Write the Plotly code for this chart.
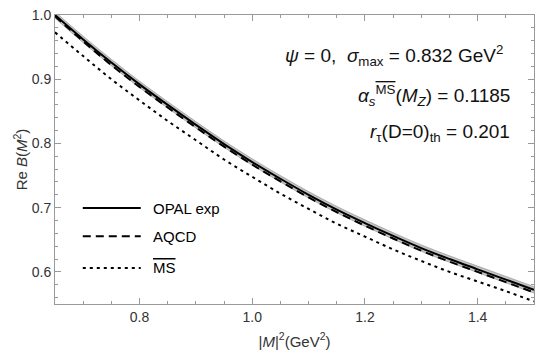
import plotly.graph_objects as go

# Data
x = [0.65, 0.70, 0.75, 0.80, 0.85, 0.90, 0.95, 1.00, 1.05, 1.10, 1.15, 1.20, 1.25, 1.30, 1.35, 1.40, 1.45, 1.50]
opal = [1.000, 0.962, 0.926, 0.892, 0.860, 0.829, 0.799, 0.771, 0.745, 0.720, 0.697, 0.676, 0.656, 0.637, 0.620, 0.604, 0.588, 0.572]
band_hi = [1.005, 0.967, 0.931, 0.897, 0.865, 0.834, 0.804, 0.776, 0.750, 0.725, 0.702, 0.681, 0.661, 0.642, 0.625, 0.609, 0.593, 0.577]
band_lo = [0.995, 0.957, 0.921, 0.887, 0.855, 0.824, 0.794, 0.766, 0.740, 0.715, 0.692, 0.671, 0.651, 0.632, 0.615, 0.599, 0.583, 0.567]
aqcd = [0.998, 0.959, 0.922, 0.888, 0.856, 0.825, 0.795, 0.767, 0.741, 0.716, 0.693, 0.672, 0.652, 0.633, 0.616, 0.600, 0.584, 0.568]
msbar = [0.973, 0.936, 0.900, 0.867, 0.835, 0.805, 0.775, 0.748, 0.722, 0.698, 0.675, 0.655, 0.635, 0.617, 0.600, 0.585, 0.570, 0.554]

legend_names = ["OPAL exp", "AQCD", "<span style='text-decoration:overline'>MS</span>"]
legend_dash = ["solid", "8px,5px", "3px,4px"]

FONT = "Liberation Sans, Arial, sans-serif"

fig = go.Figure()
fig.add_trace(go.Scatter(x=x, y=band_lo, mode="lines", line=dict(color="#8a8a8a", width=0.6, shape="spline"),
                         showlegend=False, hoverinfo="skip"))
fig.add_trace(go.Scatter(x=x, y=band_hi, mode="lines", line=dict(color="#8a8a8a", width=0.6, shape="spline"),
                         fill="tonexty", fillcolor="#c4c4c4", showlegend=False, hoverinfo="skip"))
fig.add_trace(go.Scatter(x=x, y=opal, mode="lines", line=dict(color="black", width=2, shape="spline"),
                         showlegend=False))
fig.add_trace(go.Scatter(x=x, y=aqcd, mode="lines", line=dict(color="black", width=2, dash="8px,5px", shape="spline"),
                         showlegend=False))
fig.add_trace(go.Scatter(x=x, y=msbar, mode="lines", line=dict(color="black", width=2, dash="3px,4px", shape="spline"),
                         showlegend=False))

axis_common = dict(
    showgrid=False, zeroline=False, showline=True, linecolor="#999999", linewidth=1,
    mirror="ticks", ticks="inside", ticklen=6, tickcolor="#999999", tickwidth=1,
    tickfont=dict(family=FONT, size=14, color="#333333"),
)

fig.update_xaxes(range=[0.65, 1.5], tickvals=[0.8, 1.0, 1.2, 1.4], ticktext=["0.8", "1.0", "1.2", "1.4"],
                 minor=dict(ticks="inside", ticklen=3, dtick=0.05, tick0=0.0, tickcolor="#999999"),
                 title=dict(text="|<i>M</i>|<sup>2</sup>(GeV<sup>2</sup>)", font=dict(family=FONT, size=15, color="#333333"),
                            standoff=12),
                 **axis_common)
fig.update_yaxes(range=[0.55, 1.0], tickvals=[0.6, 0.7, 0.8, 0.9, 1.0], ticktext=["0.6", "0.7", "0.8", "0.9", "1.0"],
                 minor=dict(ticks="inside", ticklen=3, dtick=0.02, tick0=0.0, tickcolor="#999999"),
                 title=dict(text="Re <i>B</i>(<i>M</i><sup>2</sup>)", font=dict(family=FONT, size=15, color="#333333"),
                            standoff=0),
                 **axis_common)

annots = [
    dict(text="<i>ψ</i> = 0,  <i>σ</i><sub>max</sub> = 0.832 GeV<sup>2</sup>", x=0.94, y=0.861),
    dict(text="<i>α</i><sub><i>s</i></sub><sup><span style='text-decoration:overline'>MS</span></sup>(<i>M</i><sub><i>Z</i></sub>) = 0.1185", x=0.955, y=0.722),
    dict(text="<i>r</i><sub>τ</sub>(D=0)<sub>th</sub> = 0.201", x=0.955, y=0.593),
]
for a in annots:
    fig.add_annotation(text=a["text"], x=a["x"], y=a["y"], xref="paper", yref="paper",
                       xanchor="right", yanchor="middle", showarrow=False,
                       font=dict(family=FONT, size=19, color="#111111"))

legend_y = [0.332, 0.234, 0.125]
for name, dash, ly in zip(legend_names, legend_dash, legend_y):
    fig.add_shape(type="line", xref="paper", yref="paper", x0=0.058, x1=0.179, y0=ly, y1=ly,
                  line=dict(color="black", width=2, dash=dash))
    fig.add_annotation(text=name, x=0.2, y=ly, xref="paper", yref="paper", xanchor="left", yanchor="middle",
                       showarrow=False, font=dict(family=FONT, size=15, color="black"))

fig.update_layout(
    width=542, height=359,
    margin=dict(l=55, r=7, t=9, b=55),
    plot_bgcolor="white", paper_bgcolor="white",
    showlegend=False,
)

fig.write_html("out.html")
